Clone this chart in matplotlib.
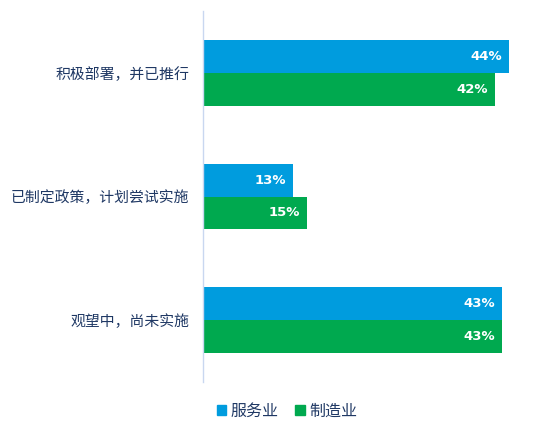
import matplotlib
matplotlib.use("Agg")
import matplotlib.pyplot as plt
import numpy as np

plt.rcParams['font.family'] = ['Noto Sans CJK SC', 'DejaVu Sans']

categories = ["积极部署，并已推行", "已制定政策，计划尝试实施", "观望中，尚未实施"]
series_names = ["服务业", "制造业"]
services = [44, 13, 43]
manufacturing = [42, 15, 43]
colors = ["#009CDE", "#00A94F"]

fig = plt.figure(figsize=(5.33, 4.30), dpi=100)
ax = fig.add_axes([203/533, 48/430, 330/533, 371/430])

y = np.arange(len(categories))
h = 33/124
b1 = ax.barh(y - h/2, services, height=h, color=colors[0], label=series_names[0])
b2 = ax.barh(y + h/2, manufacturing, height=h, color=colors[1], label=series_names[1])

for bars, vals in ((b1, services), (b2, manufacturing)):
    for bar, v in zip(bars, vals):
        ax.annotate(f"{v}%", (bar.get_width(), bar.get_y() + bar.get_height()/2),
                    xytext=(-5, 0), textcoords="offset points",
                    ha="right", va="center", color="white", fontsize=9.5,
                    fontweight="bold", family=["DejaVu Sans"])

ax.set_ylim(len(categories) - 0.5, -0.5)
ax.set_xlim(0, 330/6.95)
ax.set_yticks(y)
ax.set_yticklabels(categories, fontsize=10.7, color="#1F3864")
ax.tick_params(axis="y", length=0, pad=10)
ax.set_xticks([])
for s in ("top", "right", "bottom"):
    ax.spines[s].set_visible(False)
ax.spines["left"].set_color("#C9D7F0")
ax.spines["left"].set_linewidth(1)

handles = [plt.Rectangle((0, 0), 1, 1, color=c) for c in colors]
fig.legend(handles, series_names, loc="center", bbox_to_anchor=(287/533, 1 - 411/430),
           ncol=2, frameon=False, fontsize=11.5, handlelength=0.6, handleheight=0.6,
           handletextpad=0.3, columnspacing=1.0, labelcolor="#1F3864")

fig.savefig("out.png", dpi=100)
